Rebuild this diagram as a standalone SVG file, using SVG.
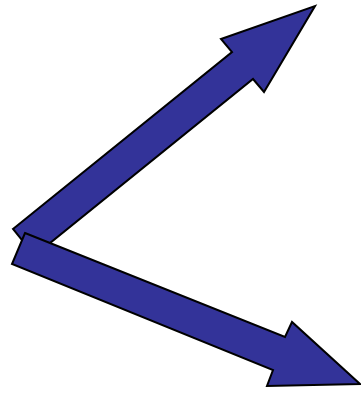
<svg xmlns="http://www.w3.org/2000/svg" width="361" height="393" viewBox="0 0 361 393">
<style>
.arr{fill:#333399;stroke:#000;stroke-width:2;stroke-linejoin:miter}
</style>
<rect width="361" height="393" fill="#fff"/>
<g id="arrow-up">
<polygon class="arr" points="13,229 232,52 221,39 315,6 264,92 253,79 34.5,255.6"/>
</g>
<g id="arrow-down">
<polygon class="arr" points="25,233 285,337 292,322 360,384 267,386 273,370 12,264"/>
</g>
</svg>
